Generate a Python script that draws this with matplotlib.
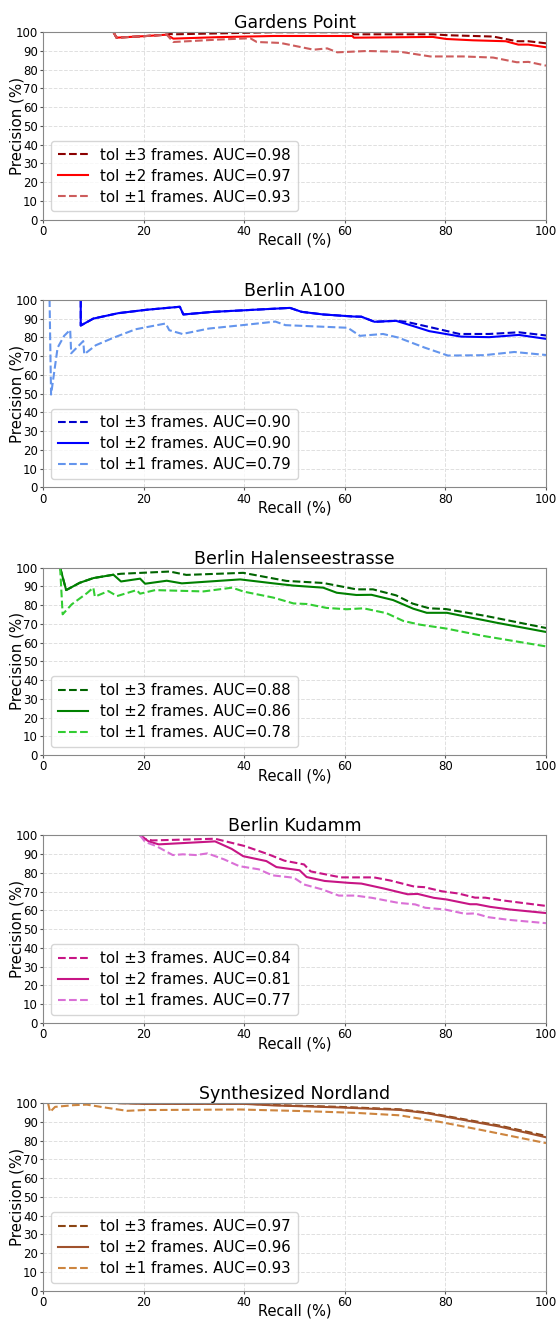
import matplotlib
matplotlib.use("Agg")
import matplotlib.pyplot as plt

titles = ["Gardens Point", "Berlin A100", "Berlin Halenseestrasse", "Berlin Kudamm", "Synthesized Nordland"]
aucs = [[0.98, 0.97, 0.93], [0.90, 0.90, 0.79], [0.88, 0.86, 0.78], [0.84, 0.81, 0.77], [0.97, 0.96, 0.93]]
colors = [["#8B0000", "#FF0000", "#CD5C5C"],
          ["#0000CD", "#0000FF", "#6495ED"],
          ["#006400", "#008000", "#32CD32"],
          ["#C71585", "#C71585", "#DA70D6"],
          ["#8B4513", "#A0522D", "#CD853F"]]

# Gardens Point
gp_t3_r = [14.0, 14.6, 20, 24.6, 25.3, 26, 45.8, 61.5, 61.7, 77.5, 80.5, 89.5, 94.2, 96.5, 100]
gp_t3_p = [100, 97.0, 97.8, 98.6, 99.0, 98.8, 99.9, 99.9, 98.8, 98.8, 98.3, 97.6, 95.1, 95.1, 94.0]
gp_t2_r = [14.0, 14.6, 20, 24.6, 25.9, 35, 45.8, 61.5, 61.8, 77.5, 80.2, 85.5, 92, 94.5, 96.5, 100]
gp_t2_p = [100, 97.0, 97.8, 98.6, 96.5, 97.3, 97.9, 97.9, 97.0, 97.4, 96.3, 95.6, 95.1, 93.3, 93.3, 91.9]
gp_t1_r = [14.0, 14.6, 20, 24.6, 25.9, 35, 41.2, 42.5, 47.2, 53.8, 56.5, 58.5, 64.4, 71.0, 77.0, 83.5, 89.5, 94.2, 96.5, 100]
gp_t1_p = [100, 97.0, 97.8, 98.6, 94.7, 96.0, 96.7, 94.7, 94.2, 90.6, 91.3, 89.2, 89.9, 89.5, 87.0, 87.0, 86.4, 83.9, 84.1, 82.1]

# Berlin A100
ba_t2_r = [7.5, 7.5, 10, 15, 20.6, 27.2, 27.9, 33.9, 40.5, 49.1, 51.4, 55.7, 61.7, 63.3, 65.9, 70.2, 73.5, 76.8, 83.1, 88.7, 94.6, 100]
ba_t2_p = [100, 86.3, 90.0, 92.9, 94.7, 96.3, 92.2, 93.6, 94.5, 95.7, 93.6, 92.2, 91.1, 91.0, 88.3, 88.8, 86.1, 83.3, 80.4, 80.1, 81.3, 79.2]
ba_t3_r = [7.5, 7.5, 10, 15, 20.6, 27.2, 27.9, 33.9, 40.5, 49.1, 51.4, 55.7, 61.7, 63.3, 65.9, 70.2, 72.2, 77.5, 82.8, 88.7, 94.6, 100]
ba_t3_p = [100, 86.3, 90.0, 92.9, 94.7, 96.3, 92.2, 93.6, 94.5, 95.7, 93.6, 92.2, 91.1, 91.0, 88.3, 88.8, 88.3, 85.1, 81.8, 81.8, 82.7, 81.0]
ba_t1_r = [1.2, 1.3, 1.6, 2.9, 4.2, 5.4, 5.6, 8.0, 8.2, 10.5, 14.1, 18.4, 24.4, 25.1, 27.7, 33.0, 39.6, 46.2, 48.2, 60.6, 63.0, 67.6, 70.6, 75.9, 80.5, 87.7, 93.7, 100]
ba_t1_p = [100, 100, 49.5, 74.5, 80.8, 84.0, 71.5, 78.0, 71.0, 75.8, 79.9, 84.3, 87.4, 83.8, 81.8, 84.7, 86.5, 88.4, 86.5, 85.1, 80.8, 81.8, 79.9, 74.5, 70.3, 70.5, 72.2, 70.6]

# Berlin Halenseestrasse
bh_t3_r = [3.4, 4.6, 7.3, 10.0, 14.0, 15.5, 25.2, 28.5, 39.8, 48.4, 55.7, 62.3, 65.6, 70.2, 73.5, 76.8, 80.1, 88.1, 100]
bh_t3_p = [100, 88.0, 91.9, 94.4, 96.2, 96.7, 97.9, 96.1, 97.2, 92.9, 91.8, 88.4, 88.4, 85.2, 80.8, 78.3, 77.9, 74.2, 67.8]
bh_t2_r = [3.4, 4.6, 7.3, 10.0, 14.0, 15.5, 19.3, 20.3, 24.6, 27.6, 39.2, 45.8, 49.8, 55.7, 58.4, 62.3, 65.3, 69.6, 73.6, 76.3, 80.3, 87.6, 90.2, 100]
bh_t2_p = [100, 88.0, 91.9, 94.4, 96.2, 92.6, 94.1, 91.4, 93.0, 91.6, 93.7, 91.6, 90.4, 89.3, 86.6, 85.4, 85.5, 82.7, 78.1, 75.9, 75.9, 72.0, 70.6, 65.7]
bh_t1_r = [3.4, 3.9, 5.7, 8.7, 10.0, 10.3, 13.0, 14.7, 18.6, 19.3, 22.3, 31.9, 37.6, 39.9, 45.8, 49.8, 52.5, 56.4, 60.4, 63.7, 68.3, 71.6, 74.9, 80.2, 87.5, 100]
bh_t1_p = [100, 75.1, 80.4, 86.3, 89.3, 84.5, 87.5, 84.8, 88.0, 86.1, 88.0, 87.3, 89.3, 87.2, 84.0, 80.9, 80.6, 78.5, 77.8, 78.3, 75.7, 71.6, 69.6, 67.5, 63.6, 58.0]

# Berlin Kudamm
bk_t3_r = [19.3, 20.3, 21.7, 34.2, 40.1, 44.7, 48.0, 51.9, 53.2, 59.2, 65.8, 69.1, 73.8, 75.8, 79.3, 82.6, 85.9, 87.9, 91.2, 93.8, 100]
bk_t3_p = [100, 98.1, 97.3, 98.2, 94.3, 90.0, 86.5, 84.5, 80.8, 77.6, 77.6, 75.9, 72.7, 72.4, 70.2, 69.0, 66.8, 66.8, 65.4, 64.5, 62.4]
bk_t2_r = [19.3, 20.3, 21.0, 23.0, 34.2, 37.5, 39.8, 44.4, 46.4, 51.0, 52.4, 56.0, 60.7, 63.3, 67.9, 72.5, 74.5, 77.7, 80.3, 84.9, 86.2, 88.9, 92.8, 100]
bk_t2_p = [100, 98.1, 96.8, 95.2, 96.8, 92.8, 88.9, 86.3, 83.1, 81.4, 77.8, 75.7, 74.7, 74.3, 71.6, 68.6, 68.8, 66.7, 65.8, 63.3, 63.3, 61.9, 60.5, 58.6]
bk_t1_r = [19.3, 20.3, 22.5, 25.8, 27.8, 30.4, 32.7, 36.0, 39.0, 42.9, 45.6, 49.9, 51.9, 55.5, 58.8, 62.1, 65.4, 70.7, 74.0, 76.0, 79.9, 83.9, 85.9, 88.5, 92.5, 100]
bk_t1_p = [100, 96.5, 94.3, 89.5, 89.9, 89.5, 90.4, 87.2, 83.6, 81.9, 78.7, 77.4, 73.8, 71.2, 67.9, 67.9, 66.7, 64.0, 63.2, 61.4, 60.5, 58.2, 58.4, 56.4, 55.0, 53.2]

# Synthesized Nordland
sn_t3_r = [15, 20, 40, 45.8, 59, 70.9, 76.2, 83.5, 90.8, 100]
sn_t3_p = [100, 99.9, 99.8, 99.0, 98.0, 96.7, 95.0, 91.5, 88.0, 82.5]
sn_t2_r = [15, 20, 40, 45.8, 59, 70.9, 76.2, 83.5, 90.8, 100]
sn_t2_p = [100, 99.6, 99.6, 98.8, 97.7, 96.4, 94.7, 91.1, 87.5, 81.8]
sn_t1_r = [1.0, 1.4, 2.4, 6.0, 8.7, 12.7, 16.7, 20.0, 39.2, 52.5, 62.3, 70.9, 78.9, 87.5, 100]
sn_t1_p = [100, 95.3, 98.0, 98.9, 99.2, 97.5, 95.9, 96.3, 96.6, 95.7, 94.8, 93.5, 90.0, 85.5, 78.7]

recalls = [[gp_t3_r, gp_t2_r, gp_t1_r], [ba_t3_r, ba_t2_r, ba_t1_r], [bh_t3_r, bh_t2_r, bh_t1_r],
           [bk_t3_r, bk_t2_r, bk_t1_r], [sn_t3_r, sn_t2_r, sn_t1_r]]
precisions = [[gp_t3_p, gp_t2_p, gp_t1_p], [ba_t3_p, ba_t2_p, ba_t1_p], [bh_t3_p, bh_t2_p, bh_t1_p],
              [bk_t3_p, bk_t2_p, bk_t1_p], [sn_t3_p, sn_t2_p, sn_t1_p]]
tols = [3, 2, 1]
styles = ["--", "-", "--"]
xticks = [0, 20, 40, 60, 80, 100]
yticks = [0, 10, 20, 30, 40, 50, 60, 70, 80, 90, 100]

fig, axes = plt.subplots(5, 1, figsize=(5.58, 13.19), dpi=100)
fig.subplots_adjust(left=0.0771, right=0.9785, top=0.9757, bottom=0.0214, hspace=0.427)

for i, ax in enumerate(axes):
    for j in range(3):
        ax.plot(recalls[i][j], precisions[i][j], linestyle=styles[j], color=colors[i][j], lw=1.5,
                label="tol \u00b1%d frames. AUC=%.2f" % (tols[j], aucs[i][j]))
    ax.set_xlim(0, 100)
    ax.set_ylim(0, 100)
    ax.set_xticks(xticks)
    ax.set_yticks(yticks)
    ax.tick_params(labelsize=8.5, color="#555555", length=2.5, pad=1.2)
    ax.grid(True, linestyle="--", color="#e0e0e0", linewidth=0.7)
    ax.set_axisbelow(True)
    for s in ax.spines.values():
        s.set_color("#888888")
    ax.set_title(titles[i], fontsize=12.5, pad=1.5)
    ax.set_xlabel("Recall (%)", fontsize=10.5)
    ax.set_ylabel("Precision (%)", fontsize=10.8)
    ax.xaxis.set_label_coords(0.5, -0.07)
    ax.yaxis.set_label_coords(-0.036, 0.5)
    ax.legend(loc="lower left", fontsize=10.8, handlelength=2.0, borderpad=0.45, labelspacing=0.4,
              borderaxespad=0.55)

fig.savefig("out.png", dpi=100)
